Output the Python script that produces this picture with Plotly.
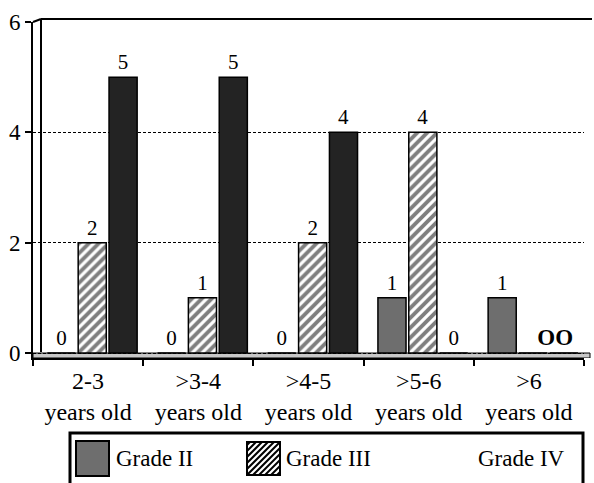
import plotly.graph_objects as go

categories = ["2-3<br>years old", ">3-4<br>years old", ">4-5<br>years old",
              ">5-6<br>years old", ">6<br>years old"]
grade2 = [0, 0, 0, 1, 1]
grade3 = [2, 1, 2, 4, 0]
grade4 = [5, 5, 4, 0, 0]
grade2_text = ["0", "0", "0", "1", "1"]
grade3_text = ["2", "1", "2", "4", ""]
grade4_text = ["5", "5", "4", "0", "<b>OO</b>&nbsp;&nbsp;&nbsp;"]
series_names = ["Grade II", "Grade III", "Grade IV"]

W, H = 594, 483
ML, MR, MT, MB = 33, 10, 22, 125
PW = W - ML - MR
PH = H - MT - MB


def px(x):
    return (x - ML) / PW


def py(y):
    return (H - MB - y) / PH


FONT = "Liberation Serif"
LABEL_FONT = dict(family=FONT, size=21, color="black")
BAR_W = 0.255
fig = go.Figure()

fig.add_trace(go.Bar(
    x=categories, y=grade2, name=series_names[0], width=BAR_W, offset=-0.37,
    marker=dict(color="#6e6e6e", line=dict(color="black", width=1.5)),
    text=grade2_text, textposition="outside", cliponaxis=False,
    constraintext="none", textfont=LABEL_FONT, showlegend=False))
fig.add_trace(go.Bar(
    x=categories, y=grade3, name=series_names[1], width=BAR_W, offset=-0.09,
    marker=dict(color="white", line=dict(color="black", width=1.5),
                pattern=dict(shape="/", fgcolor="black", bgcolor="white",
                             size=7, solidity=0.55)),
    text=grade3_text, textposition="outside", cliponaxis=False,
    constraintext="none", textfont=LABEL_FONT, showlegend=False))
fig.add_trace(go.Bar(
    x=categories, y=grade4, name=series_names[2], width=BAR_W, offset=0.19,
    marker=dict(color="#232323", line=dict(color="black", width=1.5)),
    text=grade4_text, textposition="outside", cliponaxis=False,
    constraintext="none",
    textfont=dict(family=FONT, size=[21, 21, 21, 21, 23], color="black"),
    showlegend=False))

shapes = []
# floor strip
shapes.append(dict(type="rect", xref="paper", yref="y", x0=0, x1=px(590),
                   y0=-0.09, y1=0, fillcolor="#c8c8c8",
                   line=dict(color="black", width=1), layer="below"))
# inner wall line
shapes.append(dict(type="line", xref="paper", yref="paper", x0=px(41), x1=px(41),
                   y0=py(352), y1=py(19), line=dict(color="black", width=2)))
# top line
shapes.append(dict(type="line", xref="paper", yref="paper", x0=px(41), x1=px(592),
                   y0=py(19), y1=py(19), line=dict(color="black", width=2)))
shapes.append(dict(type="line", xref="paper", yref="paper", x0=0, x1=px(41),
                   y0=py(22), y1=py(19), line=dict(color="black", width=2)))
# legend box
shapes.append(dict(type="rect", xref="paper", yref="paper", x0=px(70), x1=px(583),
                   y0=py(433), y1=py(490), line=dict(color="black", width=3),
                   fillcolor="rgba(0,0,0,0)"))
# gray swatch
shapes.append(dict(type="rect", xref="paper", yref="paper", x0=px(76), x1=px(109),
                   y0=py(441), y1=py(476), fillcolor="#6e6e6e",
                   line=dict(color="black", width=2)))
# hatched swatch
hx0, hx1, hy0, hy1 = 247, 280, 442, 475
shapes.append(dict(type="rect", xref="paper", yref="paper", x0=px(hx0), x1=px(hx1),
                   y0=py(hy0), y1=py(hy1), fillcolor="white",
                   line=dict(color="black", width=2)))
side = hx1 - hx0
step = 6
k = -side + step / 2
while k < side:
    x_start = hx0 + max(k, 0)
    y_start = hy1 - max(-k, 0)
    x_end = hx0 + min(side, side + k)
    y_end = hy1 - min(side, side - k)
    shapes.append(dict(type="line", xref="paper", yref="paper",
                       x0=px(x_start), y0=py(y_start), x1=px(x_end), y1=py(y_end),
                       line=dict(color="black", width=2)))
    k += step

LEG_FONT = dict(family=FONT, size=23, color="black")
annotations = [
    dict(xref="paper", yref="paper", x=px(114), y=py(458), text=series_names[0],
         xanchor="left", yanchor="middle", showarrow=False, font=LEG_FONT),
    dict(xref="paper", yref="paper", x=px(284), y=py(458), text=series_names[1],
         xanchor="left", yanchor="middle", showarrow=False, font=LEG_FONT),
    dict(xref="paper", yref="paper", x=px(567), y=py(458), text=series_names[2],
         xanchor="right", yanchor="middle", showarrow=False, font=LEG_FONT),
]

fig.update_layout(
    width=W, height=H,
    margin=dict(l=ML, r=MR, t=MT, b=MB, autoexpand=False),
    paper_bgcolor="white", plot_bgcolor="white",
    barmode="overlay", uniformtext=dict(mode=False),
    font=dict(family=FONT, size=20, color="black"),
    shapes=shapes, annotations=annotations,
    xaxis=dict(showline=True, linecolor="black", linewidth=2,
               ticks="outside", tickson="boundaries", ticklen=6,
               tickcolor="black", tickwidth=2, showgrid=False, automargin=False,
               tickfont=dict(family=FONT, size=24, color="black")),
    yaxis=dict(range=[-0.09, 6], tickvals=[0, 2, 4, 6], showline=True,
               linecolor="black", linewidth=2, ticks="outside", ticklen=6,
               tickcolor="black", tickwidth=2, showgrid=True, automargin=False,
               gridcolor="black", griddash="3px,2px", gridwidth=0.8,
               zeroline=False,
               tickfont=dict(family=FONT, size=23, color="black")),
)

fig.write_html("out.html", config={"displayModeBar": False},
               post_script="document.body.style.margin='0px';")
